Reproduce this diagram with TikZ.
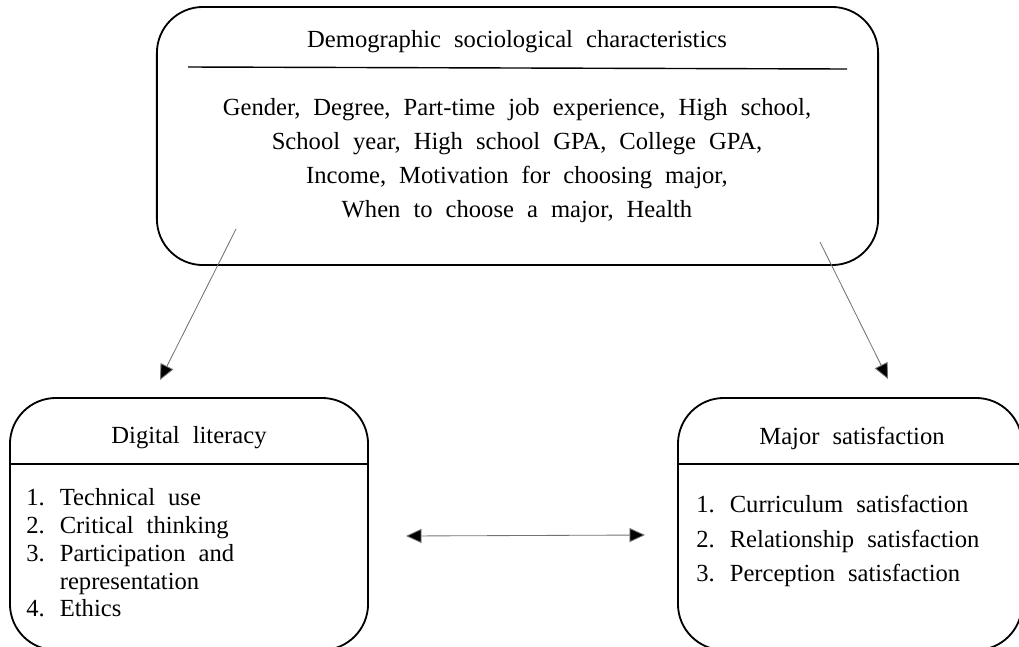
\documentclass[tikz,border=0pt]{standalone}
\usepackage{fontspec}
\setmainfont{Liberation Serif}
\usetikzlibrary{positioning,arrows.meta}
\def\widespace{\spaceskip=0.53em\relax}

\begin{document}
\begin{tikzpicture}[x=0.025cm, y=-0.025cm,
                      every node/.style = {inner sep=0pt, font=\fontsize{17.5}{24.2}\selectfont\widespace},
                      framebox/.style = {draw, line width=1.3pt, rounded corners=1.15cm},
                      divider/.style = {line width=1pt},
                      tri/.tip = {Triangle[length=11pt,width=10pt,fill=black]},
                      link/.style = {draw=black!55, line width=0.6pt, -tri}]
  \useasboundingbox (0,0) rectangle (1019,646);
  % frames
  \node[framebox, minimum width=18.025cm, minimum height=6.45cm] (demo) at (517.5,136) {};
  \node[framebox, minimum width=8.95cm, minimum height=6.3cm] (dl) at (189,524) {};
  \node[framebox, minimum width=8.6cm, minimum height=6.3cm] (ms) at (850,524) {};
  % titles
  \node (demotitle) at (517,42) {Demographic sociological characteristics};
  \node (dltitle) at (189,438) {Digital literacy};
  \node (mstitle) at (852,438) {Major satisfaction};
  \draw[divider] (188,67) -- (847,69);
  \draw[divider] (dl.west |- 0,464) -- (dl.east |- 0,464);
  \draw[divider] (ms.west |- 0,464) -- (ms.east |- 0,464);
  % contents
  \node[align=center] (demobody) at (517,161) {Gender, Degree, Part-time job experience, High school,\\
    School year, High school GPA, College GPA,\\
    Income, Motivation for choosing major,\\
    When to choose a major, Health};
  \node[align=left, anchor=west, font=\fontsize{17.5}{19.7}\selectfont\widespace] (dlbody) at (26,553) {1. Technical use\\
    2. Critical thinking\\
    3. Participation and\\
    \phantom{3. }representation\\
    4. Ethics};
  \node[align=left, anchor=west, font=\fontsize{17.5}{24.5}\selectfont\widespace] (msbody) at (696,541) {1. Curriculum satisfaction\\
    2. Relationship satisfaction\\
    3. Perception satisfaction};
  % links
  \coordinate (fromleft) at (236,229);
  \coordinate (toleft) at (160,380);
  \coordinate (fromright) at (820,242);
  \coordinate (toright) at (888,379);
  \coordinate (pairl) at (406,536);
  \coordinate (pairr) at (645,535);
  \draw[link] (fromleft) -- (toleft);
  \draw[link] (fromright) -- (toright);
  \draw[link, tri-tri] (pairl) -- (pairr);
\end{tikzpicture}
\end{document}
